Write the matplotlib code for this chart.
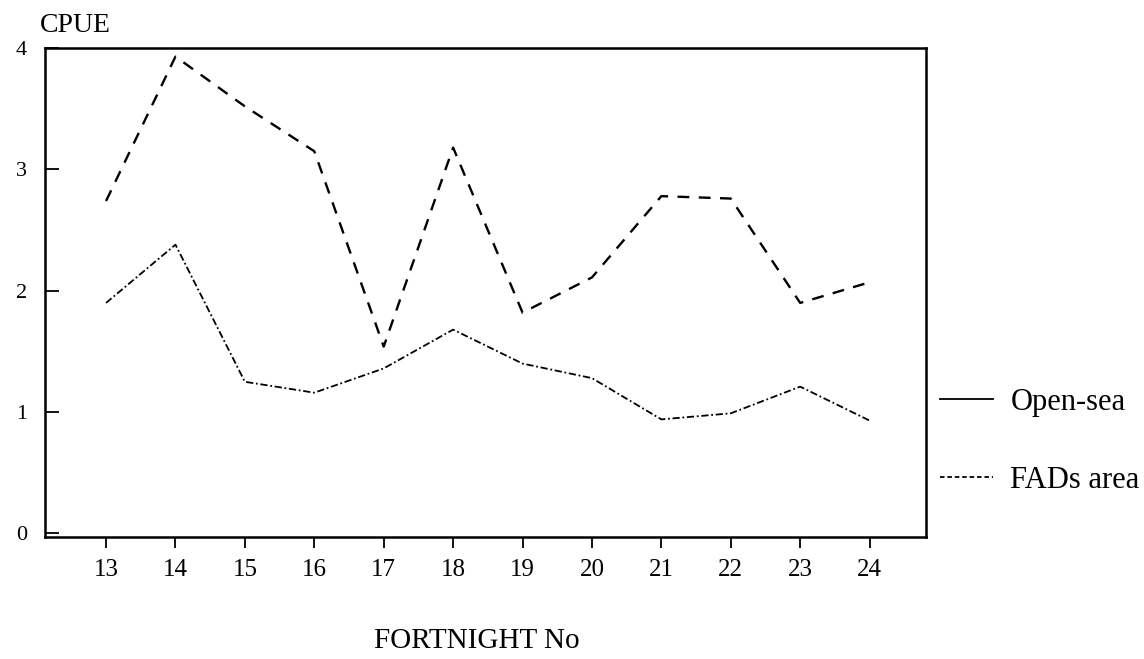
import matplotlib
matplotlib.use("Agg")
import matplotlib.pyplot as plt
from matplotlib.lines import Line2D

fortnight = [13, 14, 15, 16, 17, 18, 19, 20, 21, 22, 23, 24]
open_sea = [1.90, 2.38, 1.25, 1.16, 1.36, 1.68, 1.40, 1.28, 0.94, 0.99, 1.21, 0.93]
fads_area = [2.74, 3.93, 3.52, 3.15, 1.54, 3.18, 1.82, 2.11, 2.78, 2.76, 1.90, 2.07]
y_ticks = [0, 1, 2, 3, 4]

plt.rcParams['font.family'] = ['Liberation Serif', 'DejaVu Serif']

fig = plt.figure(figsize=(11.44, 6.59), dpi=100)
ax = fig.add_axes([0.0393, 0.185, 0.770, 0.742])

ax.plot(fortnight, open_sea, color='black', lw=1.3, linestyle=(0, (4, 1.5, 1, 1.5)))
ax.plot(fortnight, fads_area, color='black', lw=1.7, linestyle=(0, (5, 4)))

ax.set_xlim(12.12, 24.81)
ax.set_ylim(-0.03, 4.0)
ax.set_xticks(fortnight)
ax.set_xticklabels([str(v) for v in fortnight], fontsize=18)
ax.set_yticks(y_ticks)
ax.set_yticklabels([str(v) for v in y_ticks], fontsize=16)
ax.tick_params(axis='x', direction='out', length=8, width=1.3, pad=8)
ax.tick_params(axis='y', direction='in', length=10, width=1.3, pad=13)
for s in ax.spines.values():
    s.set_linewidth(1.8)

fig.text(0.0655, 1 - 26 / 659, 'CPUE', fontsize=20, ha='center', va='center')
fig.text(477 / 1144, 1 - 641 / 659, 'FORTNIGHT No', fontsize=21, ha='center', va='center')

handles = [Line2D([], [], color='black', lw=1.3, linestyle='-'),
           Line2D([], [], color='black', lw=1.3, linestyle=(0, (2.5, 1.6)))]
fig.legend(handles, ['Open-sea', 'FADs area'], loc='upper left',
           bbox_to_anchor=(940 / 1144, 1 - 388 / 659), frameon=False, fontsize=22,
           borderpad=0, borderaxespad=0,
           handlelength=1.75, handletextpad=0.55, labelspacing=1.6)

fig.savefig('out.png', dpi=100)
